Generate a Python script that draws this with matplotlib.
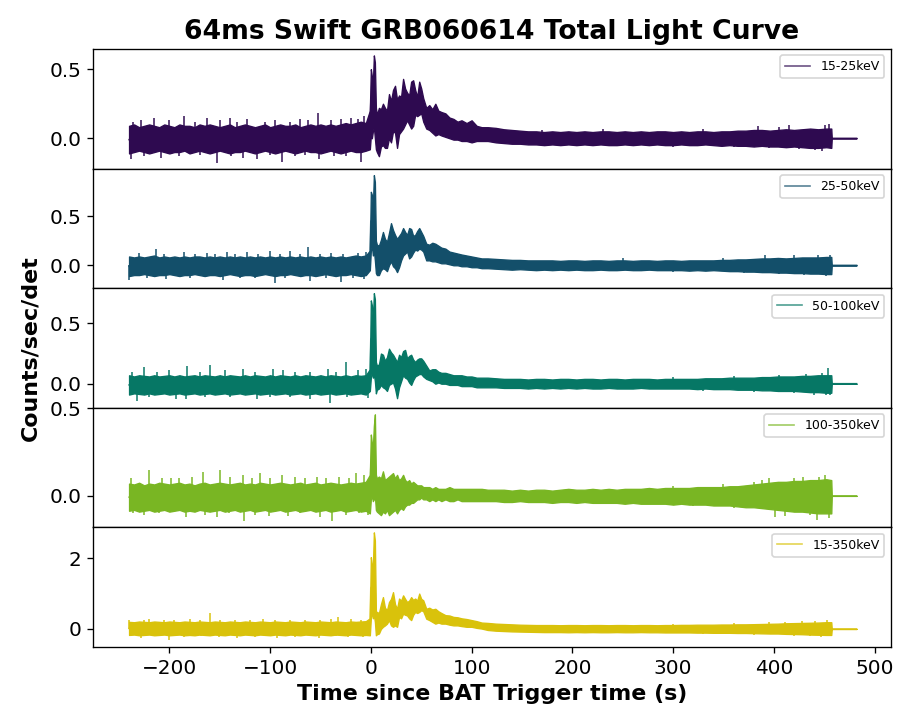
import numpy as np
import matplotlib
matplotlib.use("Agg")
import matplotlib.pyplot as plt

# ---------------- data ----------------
bands = ["15-25keV", "25-50keV", "50-100keV", "100-350keV", "15-350keV"]
colors = ["#2e0a50", "#134f6a", "#067765", "#79b623", "#d9c20b"]

# time knots (s since trigger)
t_pre = [-240, -235, -230, -225, -220, -215, -210, -205,
         -200, -195, -190, -185, -180, -175, -170, -165,
         -160, -155, -150, -145, -140, -135, -130, -125,
         -120, -115, -110, -105, -100, -95, -90, -85,
         -80, -75, -70, -65, -60, -55, -50, -45,
         -40, -35, -30, -25, -20, -15, -10, -5]
t_burst = [-1, 0, 1, 2, 3, 4, 5, 6,
           8, 10, 12, 14, 16, 18, 20, 22,
           24, 26, 28, 30, 32, 34, 36, 38,
           40, 42, 44, 46, 48, 50, 52, 55,
           58, 61, 64, 67, 70, 74, 78, 82,
           86, 90, 95, 100, 105, 110]
t_tail = [116, 124, 132, 140, 148, 156, 164, 172,
          180, 188, 196, 204, 212, 220, 228, 236,
          244, 252, 260, 268, 276, 284, 292, 300,
          308, 316, 324, 332, 340, 348, 356, 364,
          372, 380, 388, 396, 404, 412, 420, 428,
          436, 444, 452, 457]
t_flat = [457.5, 482.0]
flat_level = [0.0, 0.0]

# ======== 15-25 keV ========
hi_15_25 = [0.09, 0.10, 0.08, 0.09, 0.10, 0.09, 0.08, 0.10,
            0.09, 0.08, 0.10, 0.09, 0.09, 0.08, 0.10, 0.09,
            0.10, 0.09, 0.08, 0.09, 0.10, 0.08, 0.09, 0.10,
            0.09, 0.08, 0.09, 0.10, 0.08, 0.09, 0.10, 0.09,
            0.09, 0.10, 0.08, 0.09, 0.10, 0.09, 0.10, 0.09,
            0.10, 0.09, 0.10, 0.11, 0.10, 0.11, 0.12, 0.11,
            0.20, 0.50, 0.45, 0.40, 0.60, 0.55, 0.22, 0.17,
            0.22, 0.21, 0.25, 0.22, 0.20, 0.32, 0.27, 0.35,
            0.38, 0.28, 0.31, 0.30, 0.43, 0.36, 0.33, 0.31,
            0.41, 0.42, 0.35, 0.30, 0.41, 0.36, 0.29, 0.22,
            0.24, 0.21, 0.25, 0.20, 0.19, 0.18, 0.15, 0.14,
            0.12, 0.13, 0.11, 0.13, 0.09, 0.08,
            0.08, 0.075, 0.065, 0.06, 0.055, 0.05, 0.05, 0.045,
            0.05, 0.045, 0.05, 0.045, 0.05, 0.045, 0.05, 0.05,
            0.045, 0.05, 0.045, 0.05, 0.045, 0.05, 0.05, 0.045,
            0.05, 0.045, 0.05, 0.05, 0.045, 0.05, 0.05, 0.055,
            0.055, 0.06, 0.06, 0.055, 0.06, 0.065, 0.06, 0.065,
            0.07, 0.065, 0.07, 0.07]
lo_15_25 = [-0.11, -0.10, -0.09, -0.10, -0.11, -0.10, -0.09, -0.10,
            -0.11, -0.10, -0.10, -0.09, -0.11, -0.10, -0.09, -0.10,
            -0.11, -0.10, -0.09, -0.10, -0.11, -0.10, -0.10, -0.09,
            -0.10, -0.11, -0.10, -0.09, -0.10, -0.11, -0.10, -0.09,
            -0.10, -0.11, -0.10, -0.09, -0.10, -0.10, -0.11, -0.10,
            -0.09, -0.10, -0.11, -0.10, -0.09, -0.10, -0.10, -0.09,
            -0.08, 0.02, 0.00, 0.05, 0.08, 0.00, -0.08, -0.10,
            -0.13, -0.06, -0.05, -0.07, -0.07, 0.00, -0.03, 0.05,
            0.04, -0.07, 0.03, 0.05, 0.07, 0.10, 0.13, 0.10,
            0.07, 0.09, 0.17, 0.16, 0.17, 0.18, 0.12, 0.07,
            0.06, 0.04, 0.02, 0.03, 0.02, 0.01, 0.00, -0.01,
            -0.01, -0.02, -0.02, -0.03, -0.02, -0.02,
            -0.02, -0.03, -0.035, -0.04, -0.04, -0.045, -0.045, -0.05,
            -0.045, -0.05, -0.045, -0.05, -0.045, -0.05, -0.045, -0.05,
            -0.05, -0.045, -0.05, -0.045, -0.05, -0.045, -0.05, -0.05,
            -0.045, -0.05, -0.05, -0.045, -0.05, -0.055, -0.05, -0.055,
            -0.055, -0.06, -0.055, -0.06, -0.06, -0.065, -0.06, -0.065,
            -0.07, -0.07, -0.065, -0.07]
spk_t_15_25 = [-238, -236, -228, -225, -215, -208, -200, -190, -185, -175,
               -170, -163, -153, -150, -140, -139, -133, -127, -123, -113,
               -105, -100, -95, -88, -80, -75, -70, -65, -62, -52,
               -51, -40, -37, -30, -25, -20, -13, -10, -7,
               170, 230, 300, 330, 360, 384, 395, 405, 415, 425, 441, 448, 451, 455]
spk_v_15_25 = [-0.15, 0.12, 0.13, -0.13, 0.15, -0.14, 0.13, -0.13, 0.16, 0.12,
               -0.12, 0.15, -0.18, 0.13, 0.15, -0.13, 0.12, -0.14, 0.14, -0.15,
               0.12, -0.12, 0.13, -0.17, 0.12, -0.13, 0.14, -0.12, 0.13, 0.18,
               -0.15, 0.13, -0.13, 0.14, -0.13, 0.15, 0.14, -0.17, 0.16,
               0.06, 0.07, -0.06, 0.07, -0.063, 0.09, -0.07, 0.08, 0.095, -0.08, -0.087, -0.09, 0.095, 0.10]

# ======== 25-50 keV ========
hi_25_50 = [0.09, 0.08, 0.09, 0.08, 0.09, 0.10, 0.08, 0.09,
            0.08, 0.09, 0.08, 0.09, 0.08, 0.09, 0.09, 0.08,
            0.09, 0.08, 0.09, 0.08, 0.09, 0.08, 0.09, 0.08,
            0.09, 0.08, 0.09, 0.08, 0.09, 0.08, 0.09, 0.08,
            0.09, 0.08, 0.09, 0.08, 0.09, 0.08, 0.09, 0.08,
            0.09, 0.08, 0.09, 0.08, 0.09, 0.10, 0.09, 0.10,
            0.15, 0.75, 0.72, 0.60, 0.92, 0.85, 0.25, 0.21,
            0.20, 0.26, 0.34, 0.27, 0.24, 0.33, 0.43, 0.36,
            0.31, 0.27, 0.30, 0.33, 0.38, 0.34, 0.31, 0.38,
            0.37, 0.30, 0.31, 0.35, 0.38, 0.34, 0.30, 0.22,
            0.21, 0.23, 0.22, 0.20, 0.18, 0.17, 0.14, 0.13,
            0.12, 0.11, 0.10, 0.09, 0.08, 0.07,
            0.07, 0.065, 0.06, 0.055, 0.055, 0.05, 0.05, 0.05,
            0.05, 0.045, 0.05, 0.05, 0.045, 0.05, 0.05, 0.045,
            0.05, 0.05, 0.045, 0.05, 0.05, 0.045, 0.05, 0.05,
            0.045, 0.05, 0.05, 0.05, 0.05, 0.055, 0.055, 0.06,
            0.06, 0.065, 0.07, 0.07, 0.075, 0.07, 0.075, 0.08,
            0.08, 0.08, 0.085, 0.085]
lo_25_50 = [-0.11, -0.10, -0.10, -0.09, -0.10, -0.11, -0.10, -0.10,
            -0.09, -0.10, -0.11, -0.10, -0.10, -0.09, -0.10, -0.11,
            -0.10, -0.10, -0.11, -0.10, -0.09, -0.10, -0.11, -0.10,
            -0.10, -0.11, -0.10, -0.09, -0.10, -0.11, -0.10, -0.10,
            -0.09, -0.10, -0.11, -0.10, -0.10, -0.11, -0.10, -0.09,
            -0.10, -0.11, -0.10, -0.10, -0.09, -0.10, -0.11, -0.10,
            -0.05, 0.15, 0.20, 0.10, 0.15, 0.05, -0.08, -0.10,
            -0.10, -0.05, -0.03, -0.04, -0.06, 0.00, 0.04, -0.01,
            -0.03, -0.07, -0.02, 0.05, 0.10, 0.12, 0.14, 0.07,
            0.09, 0.13, 0.16, 0.15, 0.17, 0.16, 0.14, 0.05,
            0.05, 0.04, 0.04, 0.03, 0.02, 0.02, 0.01, 0.00,
            0.00, -0.01, -0.01, -0.02, -0.02, -0.03,
            -0.03, -0.035, -0.04, -0.045, -0.04, -0.045, -0.05, -0.045,
            -0.05, -0.045, -0.05, -0.045, -0.05, -0.05, -0.045, -0.05,
            -0.05, -0.045, -0.05, -0.05, -0.045, -0.05, -0.05, -0.05,
            -0.05, -0.055, -0.05, -0.055, -0.05, -0.055, -0.06, -0.06,
            -0.065, -0.065, -0.07, -0.07, -0.075, -0.075, -0.08, -0.08,
            -0.085, -0.085, -0.09, -0.09]
spk_t_25_50 = [-230, -213, -205, -185, -175, -163, -155, -143, -135, -123,
               -112, -100, -90, -80, -70, -62, -50, -40, -28, -13, -5,
               -240, -222, -203, -180, -147, -130, -115, -95, -85, -60,
               -45, -30, -18, -7,
               250, 300, 350, 370, 391, 405, 420, 430, 444, 452, 456]
spk_v_25_50 = [0.13, 0.17, 0.12, 0.14, 0.12, 0.13, 0.12, 0.14, 0.12, 0.14,
               0.12, 0.15, 0.12, 0.15, 0.12, 0.19, 0.12, 0.13, 0.12, 0.13, 0.14,
               -0.15, -0.13, -0.14, -0.13, -0.15, -0.13, -0.13, -0.18, -0.13, -0.16,
               -0.13, -0.17, -0.13, -0.14,
               0.07, -0.065, 0.07, -0.075, 0.10, -0.09, 0.10, -0.10, 0.10, -0.11, 0.10]

# ======== 50-100 keV ========
hi_50_100 = [0.07, 0.06, 0.07, 0.065, 0.06, 0.07, 0.06, 0.065,
             0.07, 0.06, 0.07, 0.06, 0.065, 0.07, 0.06, 0.07,
             0.065, 0.06, 0.07, 0.06, 0.07, 0.065, 0.06, 0.07,
             0.06, 0.07, 0.065, 0.06, 0.07, 0.06, 0.07, 0.065,
             0.06, 0.07, 0.06, 0.07, 0.065, 0.06, 0.07, 0.06,
             0.07, 0.065, 0.06, 0.07, 0.06, 0.07, 0.065, 0.07,
             0.12, 0.69, 0.65, 0.52, 0.75, 0.70, 0.18, 0.15,
             0.16, 0.25, 0.24, 0.19, 0.22, 0.29, 0.26, 0.24,
             0.21, 0.18, 0.24, 0.22, 0.27, 0.28, 0.21, 0.23,
             0.24, 0.20, 0.18, 0.20, 0.21, 0.21, 0.19, 0.15,
             0.11, 0.12, 0.12, 0.10, 0.09, 0.09, 0.08, 0.07,
             0.07, 0.07, 0.06, 0.06, 0.05, 0.05,
             0.05, 0.045, 0.04, 0.04, 0.04, 0.035, 0.04, 0.04,
             0.035, 0.04, 0.04, 0.035, 0.04, 0.04, 0.035, 0.04,
             0.04, 0.035, 0.04, 0.04, 0.04, 0.035, 0.04, 0.04,
             0.04, 0.04, 0.04, 0.045, 0.045, 0.045, 0.05, 0.05,
             0.05, 0.05, 0.055, 0.055, 0.06, 0.06, 0.06, 0.065,
             0.065, 0.07, 0.07, 0.07]
lo_50_100 = [-0.09, -0.08, -0.085, -0.09, -0.08, -0.09, -0.085, -0.08,
             -0.09, -0.085, -0.08, -0.09, -0.085, -0.08, -0.09, -0.085,
             -0.08, -0.09, -0.085, -0.08, -0.09, -0.085, -0.08, -0.09,
             -0.085, -0.08, -0.09, -0.085, -0.08, -0.09, -0.085, -0.08,
             -0.09, -0.085, -0.08, -0.09, -0.085, -0.08, -0.09, -0.085,
             -0.08, -0.09, -0.085, -0.08, -0.09, -0.085, -0.08, -0.09,
             -0.06, 0.05, 0.10, 0.05, 0.08, 0.02, -0.08, -0.05,
             -0.04, -0.01, -0.03, -0.04, -0.06, -0.01, 0.00, 0.01,
             -0.04, -0.12, -0.03, 0.02, 0.07, 0.05, 0.04, 0.01,
             -0.01, 0.03, 0.06, 0.07, 0.08, 0.08, 0.06, 0.04,
             0.03, 0.02, 0.00, 0.01, 0.00, 0.00, -0.01, -0.01,
             -0.01, -0.02, -0.02, -0.02, -0.03, -0.03,
             -0.03, -0.03, -0.035, -0.035, -0.035, -0.04, -0.035, -0.04,
             -0.035, -0.04, -0.035, -0.04, -0.035, -0.04, -0.04, -0.035,
             -0.04, -0.04, -0.04, -0.035, -0.04, -0.04, -0.04, -0.04,
             -0.04, -0.04, -0.045, -0.04, -0.045, -0.045, -0.045, -0.05,
             -0.05, -0.05, -0.055, -0.055, -0.06, -0.06, -0.06, -0.065,
             -0.07, -0.07, -0.075, -0.075]
spk_t_50_100 = [-237, -225, -212, -200, -182, -170, -160, -145, -127, -115,
                -97, -87, -75, -60, -43, -35, -25, -13, -5,
                -232, -220, -193, -183, -165, -140, -113, -100, -80, -60,
                -41, -24, -3,
                300, 330, 360, 380, 405, 420, 432, 440, 448, 452, 454, 456]
spk_v_50_100 = [0.10, 0.135, 0.10, 0.11, 0.15, 0.10, 0.155, 0.11, 0.12, 0.10,
                0.12, 0.11, 0.10, 0.10, 0.12, 0.10, 0.18, 0.11, 0.12,
                -0.14, -0.11, -0.13, -0.13, -0.11, -0.11, -0.13, -0.11, -0.11, -0.13,
                -0.16, -0.11, -0.12,
                0.055, -0.06, 0.06, -0.065, 0.07, -0.08, 0.08, -0.09, 0.09, -0.09, 0.13, -0.09]

# ======== 100-350 keV ========
hi_100_350 = [0.07, 0.065, 0.075, 0.06, 0.07, 0.065, 0.075, 0.07,
              0.065, 0.07, 0.075, 0.065, 0.07, 0.06, 0.07, 0.075,
              0.065, 0.07, 0.075, 0.07, 0.065, 0.07, 0.075, 0.065,
              0.07, 0.065, 0.075, 0.07, 0.065, 0.07, 0.075, 0.07,
              0.065, 0.07, 0.075, 0.065, 0.07, 0.075, 0.065, 0.07,
              0.075, 0.07, 0.065, 0.07, 0.075, 0.07, 0.075, 0.08,
              0.12, 0.35, 0.30, 0.28, 0.40, 0.465, 0.12, 0.10,
              0.11, 0.10, 0.14, 0.09, 0.10, 0.11, 0.12, 0.13,
              0.10, 0.12, 0.09, 0.10, 0.12, 0.09, 0.08, 0.09,
              0.07, 0.08, 0.07, 0.06, 0.06, 0.06, 0.05, 0.05,
              0.05, 0.04, 0.05, 0.04, 0.04, 0.04, 0.05, 0.04,
              0.04, 0.04, 0.04, 0.04, 0.04, 0.04,
              0.035, 0.035, 0.035, 0.03, 0.035, 0.03, 0.035, 0.035,
              0.03, 0.035, 0.04, 0.035, 0.035, 0.04, 0.035, 0.04,
              0.035, 0.04, 0.04, 0.04, 0.045, 0.04, 0.045, 0.045,
              0.045, 0.045, 0.05, 0.05, 0.05, 0.05, 0.055, 0.055,
              0.06, 0.065, 0.07, 0.075, 0.08, 0.08, 0.085, 0.085,
              0.09, 0.09, 0.095, 0.09]
lo_100_350 = [-0.085, -0.08, -0.09, -0.085, -0.08, -0.09, -0.085, -0.08,
              -0.09, -0.085, -0.08, -0.09, -0.085, -0.09, -0.08, -0.085,
              -0.09, -0.085, -0.08, -0.09, -0.085, -0.08, -0.09, -0.085,
              -0.08, -0.09, -0.085, -0.08, -0.09, -0.085, -0.08, -0.09,
              -0.085, -0.08, -0.09, -0.085, -0.08, -0.09, -0.085, -0.08,
              -0.09, -0.085, -0.08, -0.09, -0.085, -0.08, -0.09, -0.085,
              -0.10, -0.02, 0.00, -0.03, -0.02, 0.00, -0.08, -0.09,
              -0.10, -0.11, -0.09, -0.10, -0.08, -0.11, -0.10, -0.09,
              -0.08, -0.10, -0.08, -0.07, -0.08, -0.06, -0.05, -0.05,
              -0.04, -0.04, -0.03, -0.02, -0.02, -0.01, -0.02, -0.02,
              -0.03, -0.02, -0.03, -0.02, -0.03, -0.02, -0.03, -0.03,
              -0.02, -0.03, -0.03, -0.03, -0.03, -0.03,
              -0.03, -0.03, -0.035, -0.035, -0.03, -0.035, -0.035, -0.035,
              -0.04, -0.035, -0.035, -0.04, -0.035, -0.04, -0.04, -0.04,
              -0.04, -0.045, -0.04, -0.045, -0.045, -0.045, -0.045, -0.05,
              -0.045, -0.05, -0.05, -0.05, -0.055, -0.055, -0.055, -0.06,
              -0.065, -0.065, -0.07, -0.075, -0.08, -0.085, -0.09, -0.09,
              -0.095, -0.10, -0.10, -0.10]
spk_t_100_350 = [-238, -220, -207, -198, -190, -178, -167, -150, -140, -127,
                 -118, -110, -100, -88, -75, -65, -53, -45, -32, -22, -15, -7,
                 -236, -225, -210, -183, -165, -153, -141, -126, -115, -101,
                 -82, -70, -50, -39, -25, -12, -3,
                 300, 320, 350, 360, 380, 388, 395, 401, 411, 420, 429, 436,
                 443, 445, 451, 455]
spk_v_100_350 = [0.10, 0.146, 0.10, 0.10, 0.10, 0.11, 0.135, 0.146, 0.11, 0.12,
                 0.10, 0.13, 0.10, 0.12, 0.11, 0.10, 0.11, 0.10, 0.11, 0.10, 0.13, 0.12,
                 -0.10, -0.11, -0.10, -0.12, -0.11, -0.12, -0.10, -0.146, -0.11, -0.115,
                 -0.115, -0.10, -0.12, -0.146, -0.11, -0.10, -0.11,
                 0.055, -0.06, 0.065, -0.07, 0.08, 0.09, 0.10, -0.12, -0.115, 0.10, 0.105, -0.11,
                 -0.135, 0.11, 0.118, -0.125]

# ======== 15-350 keV ========
hi_15_350 = [0.20, 0.19, 0.21, 0.20, 0.19, 0.21, 0.20, 0.19,
             0.21, 0.20, 0.19, 0.21, 0.20, 0.19, 0.21, 0.20,
             0.19, 0.21, 0.20, 0.19, 0.21, 0.20, 0.19, 0.21,
             0.20, 0.19, 0.21, 0.20, 0.19, 0.21, 0.20, 0.19,
             0.21, 0.20, 0.19, 0.21, 0.20, 0.19, 0.21, 0.20,
             0.19, 0.21, 0.20, 0.19, 0.21, 0.20, 0.21, 0.22,
             0.30, 2.03, 1.80, 1.75, 2.73, 2.50, 0.50, 0.48,
             0.45, 0.70, 0.90, 0.60, 0.53, 0.76, 0.85, 1.04,
             0.70, 0.57, 0.86, 0.80, 0.95, 0.85, 0.76, 0.80,
             0.90, 0.82, 0.86, 0.80, 1.00, 0.85, 0.81, 0.57,
             0.60, 0.55, 0.57, 0.50, 0.45, 0.39, 0.38, 0.34,
             0.33, 0.30, 0.28, 0.25, 0.22, 0.18,
             0.17, 0.15, 0.14, 0.13, 0.12, 0.115, 0.11, 0.11,
             0.11, 0.105, 0.11, 0.11, 0.105, 0.11, 0.11, 0.105,
             0.11, 0.11, 0.105, 0.11, 0.11, 0.105, 0.11, 0.11,
             0.115, 0.115, 0.12, 0.12, 0.12, 0.125, 0.125, 0.13,
             0.13, 0.135, 0.14, 0.145, 0.15, 0.16, 0.165, 0.17,
             0.175, 0.18, 0.19, 0.19]
lo_15_350 = [-0.17, -0.16, -0.18, -0.17, -0.16, -0.18, -0.17, -0.16,
             -0.18, -0.17, -0.16, -0.18, -0.17, -0.18, -0.16, -0.17,
             -0.18, -0.16, -0.17, -0.18, -0.16, -0.17, -0.18, -0.16,
             -0.17, -0.18, -0.16, -0.17, -0.18, -0.16, -0.17, -0.18,
             -0.16, -0.17, -0.18, -0.16, -0.17, -0.18, -0.16, -0.17,
             -0.18, -0.16, -0.17, -0.18, -0.16, -0.17, -0.18, -0.17,
             -0.18, 0.30, 0.50, 0.30, 0.40, 0.20, -0.18, -0.15,
             -0.13, 0.00, 0.06, 0.10, 0.15, 0.25, 0.10, 0.06,
             0.10, 0.06, 0.34, 0.30, 0.43, 0.40, 0.38, 0.30,
             0.25, 0.40, 0.48, 0.45, 0.48, 0.53, 0.50, 0.29,
             0.25, 0.20, 0.15, 0.18, 0.15, 0.15, 0.12, 0.10,
             0.10, 0.08, 0.06, 0.06, 0.03, 0.01,
             -0.03, -0.05, -0.06, -0.07, -0.075, -0.08, -0.085, -0.09,
             -0.09, -0.09, -0.095, -0.09, -0.095, -0.09, -0.095, -0.095,
             -0.09, -0.095, -0.095, -0.09, -0.095, -0.095, -0.10, -0.10,
             -0.10, -0.10, -0.105, -0.105, -0.11, -0.11, -0.11, -0.115,
             -0.115, -0.12, -0.125, -0.13, -0.13, -0.14, -0.145, -0.15,
             -0.16, -0.165, -0.17, -0.17]
spk_t_15_350 = [-240, -225, -220, -205, -195, -180, -170, -160, -150, -135,
                -120, -107, -95, -80, -65, -50, -40, -33, -20, -10,
                -239, -228, -200, -185, -169, -150.5, -133, -115, -93, -75,
                -51, -35, -23, -8,
                300, 330, 360, 380, 395, 411, 420, 428, 436, 441, 447, 453, 456]
spk_v_15_350 = [0.25, 0.26, 0.28, 0.25, 0.26, 0.28, 0.25, 0.44, 0.26, 0.25,
                0.26, 0.28, 0.25, 0.26, 0.25, 0.26, 0.27, 0.34, 0.28, 0.26,
                -0.20, -0.26, -0.31, -0.22, -0.21, -0.22, -0.26, -0.22, -0.26, -0.22,
                -0.25, -0.21, -0.24, -0.22,
                0.14, -0.13, 0.16, -0.16, 0.19, 0.21, -0.19, 0.22, -0.21, 0.23, -0.23, 0.26, -0.21]

upper = [hi_15_25, hi_25_50, hi_50_100, hi_100_350, hi_15_350]
lower = [lo_15_25, lo_25_50, lo_50_100, lo_100_350, lo_15_350]
spike_t = [spk_t_15_25, spk_t_25_50, spk_t_50_100, spk_t_100_350, spk_t_15_350]
spike_v = [spk_v_15_25, spk_v_25_50, spk_v_50_100, spk_v_100_350, spk_v_15_350]

ylims = [(-0.221, 0.645), (-0.235, 0.985), (-0.20, 0.79), (-0.18, 0.502), (-0.51, 2.87)]
yticks = [[0.0, 0.5], [0.0, 0.5], [0.0, 0.5], [0.0, 0.5], [0, 2]]

# ---------------- figure ----------------
fig, axes = plt.subplots(5, 1, figsize=(897 / 120, 713 / 120), dpi=120, sharex=True)
fig.subplots_adjust(left=0.104, right=0.993, top=0.931, bottom=0.0926, hspace=0)

t_all = np.array(t_pre + t_burst + t_tail + t_flat, dtype=float)
for i, ax in enumerate(axes):
    hi = np.array(upper[i] + flat_level)
    lo = np.array(lower[i] + flat_level)
    assert len(hi) == len(t_all) == len(lo), (i, len(hi), len(lo), len(t_all))
    assert len(spike_t[i]) == len(spike_v[i]), (i, len(spike_t[i]), len(spike_v[i]))
    c = colors[i]
    ax.fill_between(t_all, lo, hi, color=c, linewidth=0.8, edgecolor=c)
    ax.vlines(spike_t[i], 0, spike_v[i], color=c, linewidth=0.9)
    ax.plot(t_all, (hi + lo) / 2, color=c, alpha=0.7, linewidth=1.0, label=bands[i])
    ax.set_ylim(*ylims[i])
    ax.set_yticks(yticks[i])
    ax.tick_params(axis="y", labelsize=12)
    ax.legend(loc="upper right", fontsize=7.5)
    if i < 4:
        ax.tick_params(axis="x", bottom=False, labelbottom=False)

axes[-1].set_xlim(-275.5, 516)
axes[-1].tick_params(axis="x", labelsize=12)
axes[-1].set_xlabel("Time since BAT Trigger time (s)", fontsize=13.3, fontweight="bold")
axes[0].set_title("64ms Swift GRB060614 Total Light Curve", fontsize=16, fontweight="bold")
fig.text(30 / 897, 1 - 348 / 713, "Counts/sec/det", rotation=90, ha="center", va="center",
         fontsize=13.3, fontweight="bold")

fig.savefig("out.png", dpi=120)
